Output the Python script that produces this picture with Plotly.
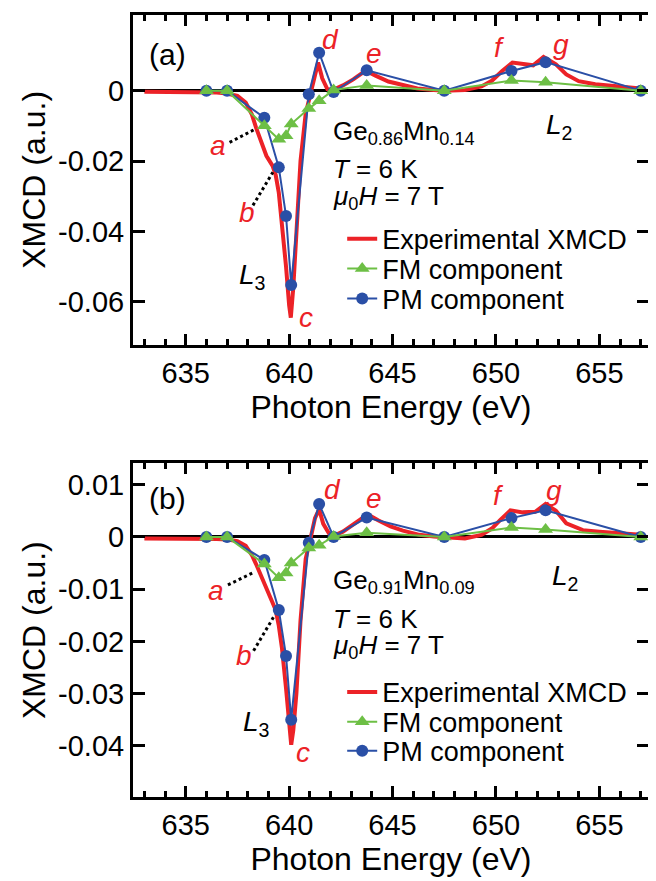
import plotly.graph_objects as go

# ---------------- data ----------------
# component points (same energies in both panels)
pt_energy = [636.0, 637.0, 638.8, 639.5, 639.85, 640.1, 640.95, 641.45, 642.15, 643.75, 647.5, 650.75, 652.4, 657.0]

pm_a = [0.0, 0.0, -0.0077, -0.0218, -0.0356, -0.0552, -0.0010, 0.0108, -0.0004, 0.0058, 0.0, 0.0056, 0.0081, 0.0]
fm_a = [0.0, 0.0, -0.0100, -0.0138, -0.0128, -0.0095, -0.0051, -0.0029, 0.0002, 0.0015, 0.0, 0.0029, 0.0024, 0.0]

pm_b = [0.0, 0.0, -0.0044, -0.0140, -0.0228, -0.0350, -0.0011, 0.0063, 0.0, 0.0037, 0.0, 0.0036, 0.0051, 0.0]
fm_b = [0.0, 0.0, -0.0052, -0.0078, -0.0069, -0.0050, -0.0021, -0.0016, 0.0001, 0.0008, 0.0, 0.0018, 0.0014, 0.0]

exp_energy_a = [633.0, 634.0, 635.0, 636.0, 636.5, 637.0, 637.5, 637.9, 638.2, 638.4, 638.6, 638.9,
                639.2, 639.35, 639.5, 639.7, 639.85, 640.0, 640.08, 640.2, 640.35, 640.55, 640.8,
                641.05, 641.25, 641.4, 641.6, 641.85, 642.1, 642.6, 643.1, 643.7, 644.2, 644.8,
                645.5, 646.2, 647.0, 647.5, 648.5, 649.3, 649.8, 650.3, 650.8, 651.3, 651.8,
                652.3, 652.9, 653.4, 654.0, 654.8, 655.8, 657.0]
exp_a = [-0.0003, -0.0003, -0.0004, -0.0004, -0.0005, -0.0008, -0.0015, -0.0034, -0.0068, -0.0105,
         -0.0140, -0.0185, -0.0214, -0.0240, -0.0290, -0.0400, -0.0500, -0.0610, -0.0645, -0.0560,
         -0.0412, -0.0200, -0.0065, -0.0002, 0.0045, 0.0080, 0.0035, 0.0004, 0.0002, 0.0015,
         0.0032, 0.0057, 0.0042, 0.0026, 0.0016, 0.0006, 0.0002, 0.0, 0.0002, 0.0012, 0.0028,
         0.0056, 0.0080, 0.0075, 0.0072, 0.0096, 0.0075, 0.0046, 0.0027, 0.0018, 0.0012, 0.0006]

exp_energy_b = [633.0, 634.0, 635.0, 636.0, 636.5, 637.0, 637.5, 637.9, 638.2, 638.4, 638.6, 638.9,
                639.15, 639.35, 639.5, 639.65, 639.85, 640.0, 640.1, 640.2, 640.35, 640.55, 640.8,
                641.05, 641.25, 641.45, 641.65, 641.95, 642.2, 642.6, 643.1, 643.8, 644.3, 644.9,
                645.5, 646.3, 647.0, 647.5, 648.5, 649.3, 649.8, 650.2, 650.7, 651.3, 651.9,
                652.4, 652.9, 653.4, 654.2, 655.0, 655.8, 657.0]
exp_b = [-0.0003, -0.0003, -0.0003, -0.0003, -0.0004, -0.0005, -0.0008, -0.0017, -0.0035, -0.0052,
         -0.0070, -0.0095, -0.0122, -0.0140, -0.0170, -0.0212, -0.0290, -0.0360, -0.0398, -0.0370,
         -0.0300, -0.0160, -0.0042, 0.0, 0.0036, 0.0053, 0.0025, 0.0005, 0.0003, 0.0010,
         0.0024, 0.0043, 0.0032, 0.0020, 0.0012, 0.0004, 0.0001, 0.0, -0.0003, 0.0004, 0.0016,
         0.0032, 0.0051, 0.0047, 0.0048, 0.0063, 0.0050, 0.0026, 0.0013, 0.0010, 0.0008, 0.0004]

x_tick_vals = [635, 640, 645, 650, 655]
x_tick_text = ["635", "640", "645", "650", "655"]
y_tick_vals_a = [0, -0.02, -0.04, -0.06]
y_tick_text_a = ["0", "-0.02", "-0.04", "-0.06"]
y_tick_vals_b = [0.01, 0, -0.01, -0.02, -0.03, -0.04]
y_tick_text_b = ["0.01", "0", "-0.01", "-0.02", "-0.03", "-0.04"]

series_names = ["Experimental XMCD", "FM component", "PM component"]
sample_a = "Ge<sub>0.86</sub>Mn<sub>0.14</sub>"
sample_b = "Ge<sub>0.91</sub>Mn<sub>0.09</sub>"

# dotted pointer lines: (x0, y0, x1, y1) in data units
pointer_a = [(637.12, -0.0147, 638.40, -0.0108), (638.25, -0.0326, 639.21, -0.0232)]
pointer_b = [(637.04, -0.0092, 638.33, -0.0067), (638.28, -0.0218, 639.24, -0.0154)]

# ---------------- style ----------------
FONT = "Liberation Sans, Arial, sans-serif"
RED = "#ec2227"
GREEN = "#6dbf45"
BLUE = "#2a4fa6"

OFF = 8                      # page body margin of the html page
W, H = 656 - OFF, 881 - OFF
ML, MR, MT = 133 - OFF, 5, 12 - OFF
MB = H - (797 - OFF)
PW, PH = W - ML - MR, H - MT - MB


def px(xp):
    return (xp - OFF - ML) / PW


def py(yp):
    return (H - MB - (yp - OFF)) / PH


fig = go.Figure()

panels = [
    ("x", "y", exp_energy_a, exp_a, fm_a, pm_a, ["legend", "legend2", "legend3"]),
    ("x2", "y2", exp_energy_b, exp_b, fm_b, pm_b, ["legend4", "legend5", "legend6"]),
]
for xa, ya, ee, ev, fm, pm, legs in panels:
    fig.add_trace(go.Scatter(x=ee, y=ev, mode="lines", name=series_names[0], showlegend=True,
                             line=dict(color=RED, width=4), xaxis=xa, yaxis=ya, legend=legs[0]))
    fig.add_trace(go.Scatter(x=pt_energy, y=pm, mode="lines+markers", name=series_names[2], showlegend=True,
                             line=dict(color=BLUE, width=2), marker=dict(symbol="circle", size=12, color=BLUE),
                             xaxis=xa, yaxis=ya, legend=legs[2]))
    fig.add_trace(go.Scatter(x=pt_energy, y=fm, mode="lines+markers", name=series_names[1], showlegend=True,
                             line=dict(color=GREEN, width=2), marker=dict(symbol="triangle-up", size=13, color=GREEN),
                             xaxis=xa, yaxis=ya, legend=legs[1]))

xcommon = dict(range=[632.45, 657.4], tickvals=x_tick_vals, ticktext=x_tick_text,
               ticks="inside", ticklen=11, tickwidth=2.5, tickcolor="black",
               minor=dict(dtick=1, tick0=633, ticks="inside", ticklen=6, tickwidth=2.5, tickcolor="black"),
               showline=True, linewidth=3, linecolor="black", mirror="ticks",
               showgrid=False, zeroline=False,
               tickfont=dict(size=29, color="black", family=FONT),
               title=dict(text="Photon Energy (eV)", font=dict(size=32, color="black", family=FONT), standoff=8))
ycommon = dict(ticks="inside", ticklen=12, tickwidth=2.5, tickcolor="black",
               showline=True, linewidth=3, linecolor="black", mirror="ticks",
               showgrid=False, zeroline=True, zerolinecolor="black", zerolinewidth=3,
               tickfont=dict(size=29, color="black", family=FONT),
               title=dict(text="XMCD (a.u.)", font=dict(size=32, color="black", family=FONT), standoff=3))

dom_a = [py(343), 1.0]
dom_b = [0.0, py(462)]

fig.update_layout(
    width=W, height=H,
    margin=dict(l=ML, r=MR, t=MT, b=MB),
    paper_bgcolor="white", plot_bgcolor="white",
    font=dict(family=FONT, color="black"),
    showlegend=True,
    xaxis=dict(xcommon, anchor="y", domain=[0, 1]),
    yaxis=dict(ycommon, anchor="x", domain=dom_a, range=[-0.0722, 0.0215],
               tickvals=y_tick_vals_a, ticktext=y_tick_text_a),
    xaxis2=dict(xcommon, anchor="y2", domain=[0, 1]),
    yaxis2=dict(ycommon, anchor="x2", domain=dom_b, range=[-0.0498, 0.0141],
                tickvals=y_tick_vals_b, ticktext=y_tick_text_b),
)

# legends: one per entry, placed individually
leg_x = px(343)
leg_rows = {"legend": 237, "legend2": 267, "legend3": 297,
            "legend4": 692, "legend5": 722, "legend6": 751}
for k, yp in leg_rows.items():
    fig.update_layout({k: dict(x=leg_x, y=py(yp), xanchor="left", yanchor="middle",
                               bgcolor="rgba(0,0,0,0)", borderwidth=0, visible=True,
                               font=dict(size=27, family=FONT, color="black"))})

# pointer lines
for pts, xr, yr in [(pointer_a, "x", "y"), (pointer_b, "x2", "y2")]:
    for x0, y0, x1, y1 in pts:
        fig.add_shape(type="line", xref=xr, yref=yr, x0=x0, y0=y0, x1=x1, y1=y1,
                      line=dict(color="black", width=3, dash="dot"))


# text annotations (reference pixel positions converted to paper coords)
def ann(text, xp, yp, size=26, color="black", xanchor="center"):
    fig.add_annotation(text=text, x=px(xp), y=py(yp), xref="paper", yref="paper",
                       showarrow=False, xanchor=xanchor, yanchor="middle",
                       font=dict(size=size, color=color, family=FONT))


for lab, off in [("(a)", 0), ("(b)", 445)]:
    ann(lab, 168, 52 + off, size=30)

letters_a = [("a", 218, 143), ("b", 247, 210), ("c", 307, 316), ("d", 331, 37),
             ("e", 375, 51), ("f", 501, 45), ("g", 563, 42)]
letters_b = [("a", 216, 590), ("b", 244, 655), ("c", 304, 752), ("d", 333, 488),
             ("e", 375, 497), ("f", 500, 494), ("g", 556, 489)]
for t, xp, yp in letters_a + letters_b:
    ann("<i>%s</i>" % t, xp, yp, size=28, color=RED)

ann("<i>L</i><sub>3</sub>", 253, 275, size=28)
ann("<i>L</i><sub>2</sub>", 561, 124, size=28)
ann("<i>L</i><sub>3</sub>", 257, 723, size=28)
ann("<i>L</i><sub>2</sub>", 567, 577, size=28)

for sample, y0 in [(sample_a, 133), (sample_b, 584)]:
    ann(sample, 332, y0 - 3, size=26, xanchor="left")
    ann("<i>T</i> = 6 K", 332, y0 + 34, size=26, xanchor="left")
    ann("<i>μ</i><sub>0</sub><i>H</i> = 7 T", 332, y0 + 62, size=26, xanchor="left")

fig.write_html("out.html")
